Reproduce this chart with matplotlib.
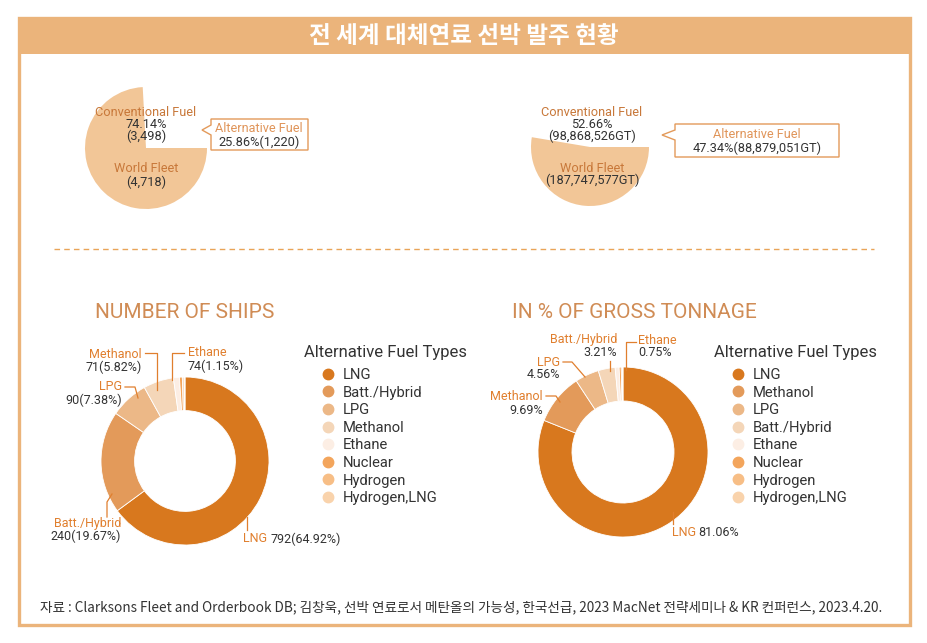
import matplotlib
matplotlib.use("Agg")
import matplotlib.pyplot as plt
from matplotlib.lines import Line2D
from matplotlib.legend import Legend
from matplotlib.patches import Rectangle, Polygon

plt.rcParams['font.family'] = ['Roboto', 'Noto Sans CJK KR', 'DejaVu Sans']

# === data ===
title = "전 세계 대체연료 선박 발주 현황"
source = ("자료 : Clarksons Fleet and Orderbook DB; 김창욱, 선박 연료로서 메탄올의 가능성, "
          "한국선급, 2023 MacNet 전략세미나 & KR 컨퍼런스, 2023.4.20.")

fleet_parts = ["Alternative Fuel", "Conventional Fuel"]
ships_share = [25.86, 74.14]
ships_count = [1220, 3498]
ships_world = 4718
gt_share = [47.34, 52.66]
gt_value = [88879051, 98868526]
gt_world = 187747577

ships_types = ["LNG", "Batt./Hybrid", "LPG", "Methanol", "Ethane", "Nuclear", "Hydrogen", "Hydrogen,LNG"]
ships_pct = [64.92, 19.67, 7.38, 5.82, 1.15, 0.55, 0.33, 0.18]
ships_num = [792, 240, 90, 71, 74]

gt_types = ["LNG", "Methanol", "LPG", "Batt./Hybrid", "Ethane", "Nuclear", "Hydrogen", "Hydrogen,LNG"]
gt_pct = [81.06, 9.69, 4.56, 3.21, 0.75, 0.40, 0.22, 0.11]

# same colour per legend position in both charts
fuel_colors = ["#D8781E", "#E39A5A", "#ECB887", "#F4D6B8", "#FCEEE4", "#F3A55C", "#F7BE86", "#F9D3AC"]

# === colours ===
frame_c = "#EBB47B"
pie_c = "#F2C697"
lab_c = "#E07F2E"
top_lab_c = "#C8783A"
sect_c = "#D08C55"
dark = "#333333"

W, H = 928, 643
fig = plt.figure(figsize=(W / 100, H / 100), dpi=100)

# overlay axes in pixel coordinates (drawn above the pies)
bg = fig.add_axes([0, 0, 1, 1])
bg.set_xlim(0, W)
bg.set_ylim(H, 0)
bg.axis("off")
bg.set_zorder(5)
bg.patch.set_alpha(0)

bg.add_patch(Rectangle((19, 18), 891, 607, fill=False, ec=frame_c, lw=2.4))
bg.add_patch(Rectangle((19, 18), 891, 36, fc=frame_c, ec=frame_c, lw=0))
bg.text(464, 36, title, ha="center", va="center", color="white", fontsize=17,
        fontweight="bold", family=["Noto Sans CJK KR"])
bg.plot([54, 874], [249, 249], color="#E9A458", lw=1, dashes=(4, 3))
bg.text(40, 607, source, ha="left", va="center", color=dark, fontsize=9.8,
        family=["Noto Sans CJK KR"])


def pie_axes(cx, cy, r):
    a = fig.add_axes([(cx - r) / W, (H - cy - r) / H, 2 * r / W, 2 * r / H])
    a.set_zorder(1)
    return a


# === top pies ===
ax1 = pie_axes(146, 148, 61)
ax1.pie(ships_share, startangle=0, counterclock=True, colors=["none", pie_c])
ax1.set_xlim(-1, 1)
ax1.set_ylim(-1, 1)

ax2 = pie_axes(590, 147, 59)
ax2.pie(gt_share, startangle=0, counterclock=True, colors=["none", pie_c])
ax2.set_xlim(-1, 1)
ax2.set_ylim(-1, 1)

fs_top = 9.2
bg.text(146, 112, fleet_parts[1], ha="center", va="center", color=top_lab_c, fontsize=fs_top)
bg.text(146, 124, f"{ships_share[1]:.2f}%", ha="center", va="center", color=dark, fontsize=fs_top)
bg.text(146, 136, f"({ships_count[1]:,})", ha="center", va="center", color=dark, fontsize=fs_top)
bg.text(146, 169, "World Fleet", ha="center", va="center", color=top_lab_c, fontsize=fs_top)
bg.text(146, 182, f"({ships_world:,})", ha="center", va="center", color=dark, fontsize=fs_top)

bg.text(592, 112, fleet_parts[1], ha="center", va="center", color=top_lab_c, fontsize=fs_top)
bg.text(592, 124, f"{gt_share[1]:.2f}%", ha="center", va="center", color=dark, fontsize=fs_top)
bg.text(592, 136, f"({gt_value[1]:,}GT)", ha="center", va="center", color=dark, fontsize=fs_top)
bg.text(592, 168, "World Fleet", ha="center", va="center", color=top_lab_c, fontsize=fs_top)
bg.text(592, 180, f"({gt_world:,}GT)", ha="center", va="center", color=dark, fontsize=fs_top)


def callout(x0, x1, y0, y1, tip_x, tip_y, half):
    pts = [(x0, y0), (x1, y0), (x1, y1), (x0, y1), (x0, tip_y + half),
           (tip_x, tip_y), (x0, tip_y - half)]
    bg.add_patch(Polygon(pts, closed=True, fc="white", ec="#E39A5A", lw=1))


callout(211, 308, 119, 150, 202, 130, 5)
bg.text(259, 129, fleet_parts[0], ha="center", va="center", color="#E0955A", fontsize=fs_top)
bg.text(259, 142, f"{ships_share[0]:.2f}%({ships_count[0]:,})", ha="center", va="center",
        color=dark, fontsize=fs_top)

callout(675, 839, 124, 157, 662, 135, 5)
bg.text(757, 134, fleet_parts[0], ha="center", va="center", color="#E0955A", fontsize=fs_top)
bg.text(757, 148, f"{gt_share[0]:.2f}%({gt_value[0]:,}GT)", ha="center", va="center",
        color=dark, fontsize=fs_top)

# === section titles ===
bg.text(185, 312, "NUMBER OF SHIPS", ha="center", va="center", color=sect_c, fontsize=15)
bg.text(634, 312, "IN % OF GROSS TONNAGE", ha="center", va="center", color=sect_c, fontsize=15)

# === donuts ===
wp = dict(width=0.4, edgecolor="white", linewidth=0.6)
ax3 = pie_axes(185, 461, 84)
ax3.pie(ships_pct, startangle=90, counterclock=False, colors=fuel_colors, wedgeprops=wp)
ax3.set_xlim(-1, 1)
ax3.set_ylim(-1, 1)

ax4 = pie_axes(623, 452, 85)
ax4.pie(gt_pct, startangle=90, counterclock=False, colors=fuel_colors, wedgeprops=wp)
ax4.set_xlim(-1, 1)
ax4.set_ylim(-1, 1)

fs_lab = 9


def label(x, y, name, value, ha, lead):
    bg.text(x, y, name, ha=ha, va="center", color=lab_c, fontsize=fs_lab)
    bg.text(x, y + 13, value, ha=ha, va="center", color=dark, fontsize=fs_lab)
    xs, ys = zip(*lead)
    bg.plot(xs, ys, color=lab_c, lw=0.9)


# left donut labels
label(142, 354, ships_types[3], f"{ships_num[3]}({ships_pct[3]:.2f}%)", "right",
      [(145, 353), (157, 353), (157, 390)])
label(188, 353, ships_types[4], f"{ships_num[4]}({ships_pct[4]:.2f}%)", "left",
      [(184, 353), (172, 353), (172, 380)])
label(122, 387, ships_types[2], f"{ships_num[2]}({ships_pct[2]:.2f}%)", "right",
      [(125, 387), (135, 387), (138, 398)])
label(121, 523, ships_types[1], f"{ships_num[1]}({ships_pct[1]:.2f}%)", "right",
      [(107, 517), (107, 502), (112, 494)])
bg.text(243, 539, ships_types[0], ha="left", va="center", color=lab_c, fontsize=fs_lab)
bg.text(271, 539, f"{ships_num[0]}({ships_pct[0]:.2f}%)", ha="left", va="center",
        color=dark, fontsize=fs_lab)
bg.plot([247, 247], [517, 530], color=lab_c, lw=0.9)

# right donut labels
label(617, 339, gt_types[3], f"{gt_pct[3]:.2f}%", "right", [(610, 361), (610, 371)])
label(638, 340, gt_types[4], f"{gt_pct[4]:.2f}%", "left", [(636, 342), (626, 342), (626, 370)])
label(560, 362, gt_types[2], f"{gt_pct[2]:.2f}%", "right", [(563, 362), (572, 362), (585, 377)])
label(543, 397, gt_types[1], f"{gt_pct[1]:.2f}%", "right", [(546, 396), (556, 396), (560, 402)])
bg.text(672, 532, gt_types[0], ha="left", va="center", color=lab_c, fontsize=fs_lab)
bg.text(698, 532, f"{gt_pct[0]:.2f}%", ha="left", va="center", color=dark, fontsize=fs_lab)
bg.plot([673, 673], [512, 524], color=lab_c, lw=0.9)

# === legends ===
for x_title, types in [(304, ships_types), (714, gt_types)]:
    bg.text(x_title, 352, "Alternative Fuel Types", ha="left", va="center", color=dark, fontsize=12)
    handles = [Line2D([], [], marker="o", ls="", color=c, markersize=7.5) for c in fuel_colors]
    leg = Legend(bg, handles, types, loc="upper left", bbox_to_anchor=(x_title + 17, 368),
                 bbox_transform=bg.transData, frameon=False, fontsize=10.6,
                 handlelength=0.95, handletextpad=0.55, labelspacing=0.245,
                 borderpad=0, borderaxespad=0)
    for t in leg.get_texts():
        t.set_color(dark)
    bg.add_artist(leg)

fig.savefig("out.png", dpi=100)
